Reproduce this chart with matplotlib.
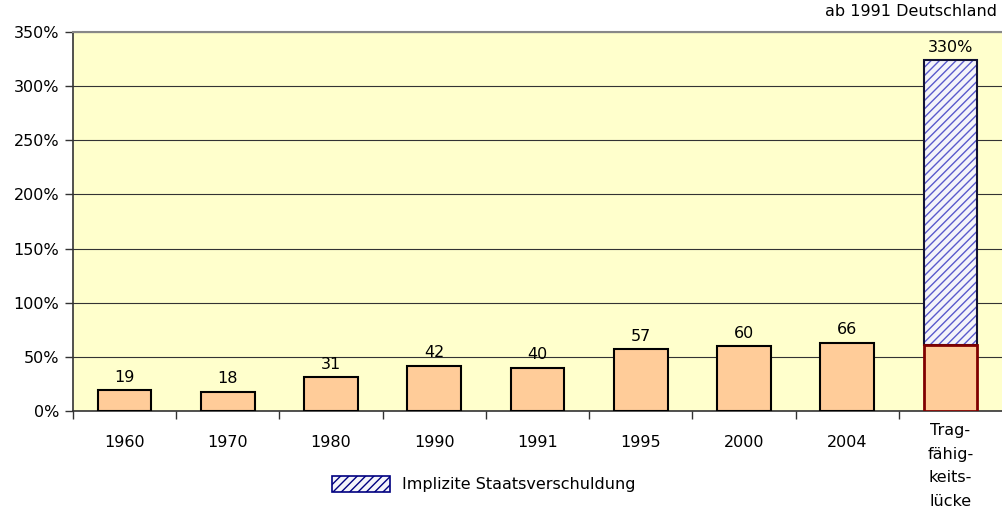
import numpy as np
import matplotlib.pyplot as plt
from matplotlib.patches import Patch

plt.rcParams['font.family'] = ['DejaVu Sans']
plt.rcParams['hatch.linewidth'] = 1.0

# Daten
kategorien = ['1960', '1970', '1980', '1990', '1991', '1995', '2000', '2004',
              'Trag-\nfähig-\nkeits-\nlücke']
schulden = [19, 18, 31, 42, 40, 57, 60, 63, 61]
schulden_text = ['19', '18', '31', '42', '40', '57', '60', '66', '']
implizit_gesamt = 324
implizit_text = '330%'
y_ticks = [0, 50, 100, 150, 200, 250, 300, 350]

fig = plt.figure(figsize=(10.02, 5.08), dpi=100)
ax = fig.add_axes([73 / 1002, 1 - 411 / 508, 929 / 1002, 379 / 508])
ax.set_facecolor('#FFFFCC')

x = np.arange(len(kategorien))
breite = 0.52

# normale Balken
ax.bar(x[:-1], schulden[:-1], width=breite, color='#FFCC99',
       edgecolor='black', linewidth=1.5, zorder=3)

# Tragfähigkeitslücke: implizite Schulden schraffiert
ax.bar(x[-1], implizit_gesamt - schulden[-1], bottom=schulden[-1], width=breite,
       color='#F4F4FA', edgecolor='#5A5ACC', hatch='////', linewidth=0, zorder=3)
ax.bar(x[-1], implizit_gesamt - schulden[-1], bottom=schulden[-1], width=breite,
       fill=False, edgecolor='#111133', linewidth=1.5, zorder=4)
ax.bar(x[-1], schulden[-1], width=breite, color='#FFCC99',
       edgecolor='#800000', linewidth=2, zorder=5)

# Beschriftungen
for xi, v, t in zip(x, schulden, schulden_text):
    if t:
        ax.text(xi, v + 5, t, ha='center', va='bottom', fontsize=11.5)
ax.text(x[-1], implizit_gesamt + 5, implizit_text, ha='center', va='bottom', fontsize=11.5)

ax.set_xlim(-0.5, len(kategorien) - 0.5)
ax.set_ylim(0, 350)
ax.set_yticks(y_ticks)
ax.set_yticklabels([f'{v}%' for v in y_ticks], fontsize=11.5)
ax.yaxis.grid(True, color='#333333', linewidth=0.8, zorder=0)
ax.set_axisbelow(True)

ax.set_xticks(x)
ax.set_xticklabels(kategorien, fontsize=11.5, linespacing=1.7)
ax.tick_params(axis='x', length=0, pad=17)
ax.set_xticks(np.arange(len(kategorien)) - 0.5, minor=True)
ax.tick_params(axis='x', which='minor', length=6, width=1, color='#333333', direction='out')
ax.tick_params(axis='y', length=6, width=1, color='#333333', pad=4)
xt = ax.xaxis.get_major_ticks()
xt[-1].set_pad(9)
for lab in ax.get_xticklabels():
    lab.set_verticalalignment('top')

for s in ['left', 'bottom']:
    ax.spines[s].set_color('#333333')
    ax.spines[s].set_linewidth(1.2)
ax.spines['top'].set_color('#888888')
ax.spines['top'].set_linewidth(1.5)
ax.spines['right'].set_visible(False)

fig.text(997 / 1002, 1 - 12 / 508, 'ab 1991 Deutschland', ha='right', va='center', fontsize=11.5)

legende = Patch(facecolor='#F4F4FA', edgecolor='#000080', hatch='////', linewidth=1.2)
fig.legend([legende], ['Implizite Staatsverschuldung'], loc='center',
           bbox_to_anchor=(484 / 1002, 1 - 484 / 508), frameon=False, fontsize=11.5,
           handlelength=3.6, handleheight=1.2, handletextpad=0.8)

plt.savefig('out.png', dpi=100)
